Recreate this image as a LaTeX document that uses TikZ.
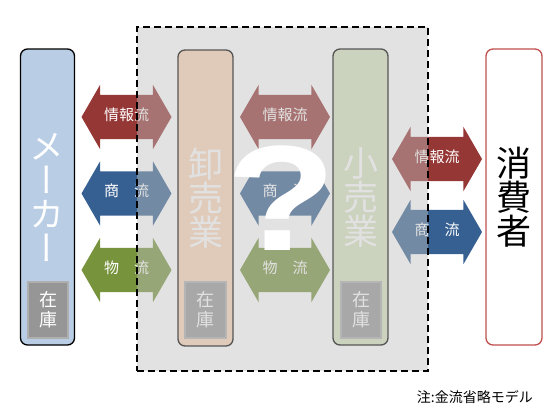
\documentclass[tikz,border=0pt]{standalone}
\usepackage{fontspec}
\setmainfont{Noto Sans CJK JP}
\newfontfamily\jpvert[RawFeature=+vert]{Noto Sans CJK JP}
\newfontfamily\qmarkfont{Liberation Sans}
\usetikzlibrary{shapes.arrows,positioning,calc}
\definecolor{infored}{RGB}{149,55,53}
\definecolor{tradeblue}{RGB}{55,96,146}
\definecolor{logigreen}{RGB}{119,147,60}
\definecolor{makerblue}{RGB}{185,205,229}
\definecolor{wholepeach}{RGB}{252,213,181}
\definecolor{retailgreen}{RGB}{215,228,189}
\definecolor{consumerred}{RGB}{192,80,77}
\definecolor{stockgray}{RGB}{150,150,150}
\definecolor{stockedge}{RGB}{175,175,175}
\definecolor{zonegray}{RGB}{190,190,190}

\begin{document}
\begin{tikzpicture}[x=1pt, y=-1pt,
actor/.style={rectangle, draw=black, line width=1.3pt, rounded corners=7pt, minimum width=54pt, minimum height=296pt, align=center, text=white, font=\jpvert\fontsize{35}{34}\selectfont, inner sep=0pt},
stock/.style={rectangle, draw=stockedge, fill=stockgray, line width=1.2pt, minimum width=40pt, minimum height=56pt, align=center, text=white, font=\fontsize{18}{20}\selectfont, inner sep=0pt},
flow/.style={double arrow, double arrow head extend=10pt, double arrow tip angle=120, minimum height=90pt, inner xsep=2pt, inner ysep=15pt, text height=10pt, text depth=4pt, text=white, font=\fontsize{15}{15}\selectfont},
zone/.style={rectangle, draw=black, line width=1.3pt, dash pattern=on 7pt off 4pt, fill=zonegray, fill opacity=0.45, minimum width=291pt, minimum height=344pt, inner sep=0pt}]

\useasboundingbox (0,0) rectangle (550,418);

\node[actor, fill=makerblue] (maker) at (47.5,197) {メ\\ー\\カ\\ー};

\node[actor, fill=wholepeach, minimum width=55pt] (wholesale) at (205.5,198) {卸\\売\\業};

\node[actor, fill=retailgreen, minimum width=55pt] (retail) at (360.5,197) {小\\売\\業};

\node[actor, draw=consumerred, fill=white, text=black, minimum width=56pt] (consumer) at (514,197) {消\\費\\者};

\node[stock] (stockM) at (48,310) {在\\庫};

\node[stock, minimum width=41pt] (stockW) at (205.5,310) {在\\庫};

\node[stock] (stockR) at (361,310) {在\\庫};

% maker -- wholesale
\node[flow, fill=infored] (infoA) at (126.5,117) {情報流};

\node[flow, fill=tradeblue] (tradeA) at (126.5,193.5) {商　流};

\node[flow, fill=logigreen] (goodsA) at (126.5,270) {物　流};

% wholesale -- retail
\node[flow, fill=infored] (infoB) at (285,117) {情報流};

\node[flow, fill=tradeblue] (tradeB) at (285,193.5) {商　流};

\node[flow, fill=logigreen] (goodsB) at (285,270) {物　流};

% retail -- consumer
\node[flow, fill=infored] (infoC) at (437,159) {情報流};

\node[flow, fill=tradeblue] (tradeC) at (437,232) {商　流};

% intermediary zone
\node[zone] (market) at (282.5,199) {};

\node[text=white, font=\qmarkfont\bfseries\fontsize{150}{150}\selectfont, xscale=1.2, inner sep=0pt] (query) at (281,198) {?};

\node[anchor=base east, font=\fontsize{14}{14}\selectfont, inner sep=0pt] (note) at (533,402) {注:金流省略モデル};

\end{tikzpicture}
\end{document}
